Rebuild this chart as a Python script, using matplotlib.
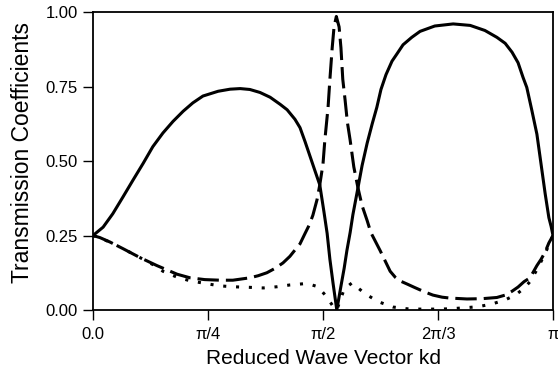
import matplotlib
matplotlib.use("Agg")
import matplotlib.pyplot as plt

plt.rcParams['font.family'] = ['Liberation Sans', 'DejaVu Sans']

# x is the fraction of the axis (0 = 0.0, 1 = pi)
solid_x = [0.0, 0.022, 0.043, 0.065, 0.087, 0.109, 0.130, 0.152, 0.174, 0.196,
           0.217, 0.239, 0.272, 0.298, 0.320, 0.341, 0.363, 0.385, 0.407, 0.422,
           0.439, 0.450, 0.461, 0.472, 0.483, 0.493, 0.502, 0.509, 0.515, 0.522,
           0.530, 0.539, 0.546, 0.552, 0.559, 0.565, 0.576, 0.585, 0.596, 0.607,
           0.617, 0.626, 0.637, 0.650, 0.661, 0.674, 0.693, 0.711, 0.743, 0.783,
           0.820, 0.852, 0.878, 0.896, 0.911, 0.924, 0.935, 0.943, 0.954, 0.965,
           0.974, 0.983, 0.991, 0.996, 1.0]
solid_y = [0.25, 0.278, 0.323, 0.379, 0.436, 0.492, 0.548, 0.594, 0.633, 0.667,
           0.695, 0.718, 0.734, 0.741, 0.743, 0.740, 0.730, 0.714, 0.69, 0.672,
           0.64, 0.612, 0.565, 0.515, 0.465, 0.42, 0.33, 0.257, 0.17, 0.088,
           0.0, 0.08, 0.14, 0.20, 0.26, 0.32, 0.41, 0.485, 0.56, 0.625,
           0.68, 0.74, 0.79, 0.835, 0.86, 0.89, 0.915, 0.935, 0.953, 0.96,
           0.955, 0.938, 0.915, 0.895, 0.865, 0.83, 0.78, 0.747, 0.67, 0.59,
           0.49, 0.39, 0.31, 0.28, 0.25]

dash_x = [0.0, 0.015, 0.037, 0.065, 0.102, 0.139, 0.183, 0.211, 0.243, 0.276,
          0.304, 0.341, 0.359, 0.378, 0.396, 0.413, 0.428, 0.441, 0.450, 0.461,
          0.470, 0.478, 0.487, 0.493, 0.500, 0.504, 0.511, 0.515, 0.520, 0.524,
          0.529, 0.535, 0.539, 0.543, 0.548, 0.553, 0.559, 0.567, 0.576, 0.585,
          0.596, 0.604, 0.613, 0.624, 0.635, 0.646, 0.657, 0.667, 0.683, 0.700,
          0.722, 0.739, 0.759, 0.776, 0.813, 0.846, 0.878, 0.896, 0.911, 0.924,
          0.937, 0.950, 0.965, 0.974, 0.983, 0.991, 1.0]
dash_y = [0.25, 0.243, 0.228, 0.206, 0.176, 0.149, 0.12, 0.108, 0.102, 0.10,
          0.10, 0.108, 0.115, 0.125, 0.14, 0.158, 0.18, 0.205, 0.222, 0.257,
          0.285, 0.318, 0.37, 0.42, 0.49, 0.57, 0.68, 0.774, 0.88, 0.95,
          0.985, 0.95, 0.88, 0.774, 0.705, 0.63, 0.57, 0.48, 0.41, 0.35,
          0.30, 0.26, 0.233, 0.20, 0.165, 0.13, 0.11, 0.098, 0.087, 0.075,
          0.06, 0.05, 0.043, 0.04, 0.037, 0.038, 0.042, 0.05, 0.063, 0.077,
          0.095, 0.108, 0.149, 0.17, 0.195, 0.225, 0.25]

dot_x = [0.0, 0.037, 0.065, 0.102, 0.139, 0.152, 0.183, 0.211, 0.248, 0.276,
         0.304, 0.341, 0.370, 0.400, 0.428, 0.457, 0.472, 0.489, 0.502, 0.511,
         0.522, 0.530, 0.546, 0.563, 0.591, 0.620, 0.652, 0.683, 0.711, 0.748,
         0.776, 0.804, 0.837, 0.867, 0.896, 0.911, 0.924, 0.937, 0.950, 0.965,
         0.983, 1.0]
dot_y = [0.25, 0.228, 0.206, 0.176, 0.145, 0.13, 0.11, 0.098, 0.088, 0.081,
         0.078, 0.076, 0.074, 0.078, 0.084, 0.088, 0.086, 0.078, 0.055, 0.037,
         0.012, 0.0, 0.07, 0.091, 0.055, 0.028, 0.01, 0.004, 0.003, 0.003,
         0.004, 0.007, 0.011, 0.02, 0.034, 0.045, 0.057, 0.073, 0.095, 0.135,
         0.19, 0.25]

x_ticks = [0.0, 0.25, 0.5, 0.75, 1.0]
x_labels = ['0.0', '\u03c0/4', '\u03c0/2', '2\u03c0/3', '\u03c0']
y_ticks = [0.0, 0.25, 0.5, 0.75, 1.0]
y_labels = ['0.00', '0.25', '0.50', '0.75', '1.00']

fig = plt.figure(figsize=(5.58, 3.72), dpi=100)
ax = fig.add_axes([93 / 558, 62 / 372, 460 / 558, 298 / 372])

ax.plot(solid_x, solid_y, color='black', lw=2.2, solid_joinstyle='round')
ax.plot(dash_x, dash_y, color='black', lw=2.2, dashes=(7, 2.3), dash_capstyle='butt')
ax.plot(dot_x, dot_y, color='black', lw=2.2, dashes=(1.0, 3.2), dash_capstyle='butt')

ax.set_xlim(0, 1)
ax.set_ylim(0, 1)
ax.set_xticks(x_ticks)
ax.set_xticklabels(x_labels)
ax.set_yticks(y_ticks)
ax.set_yticklabels(y_labels)
ax.tick_params(direction='out', length=7, width=1, labelsize=12,
               top=False, right=False)
ax.tick_params(axis='y', pad=4)
ax.tick_params(axis='x', pad=5)
for s in ax.spines.values():
    s.set_linewidth(1.3)

ax.set_xlabel('Reduced Wave Vector kd', fontsize=15, labelpad=5)
ax.set_ylabel('Transmission Coefficients', fontsize=16.5)
ax.yaxis.set_label_coords(-0.128, 0.53)

fig.savefig('out.png', dpi=100)
